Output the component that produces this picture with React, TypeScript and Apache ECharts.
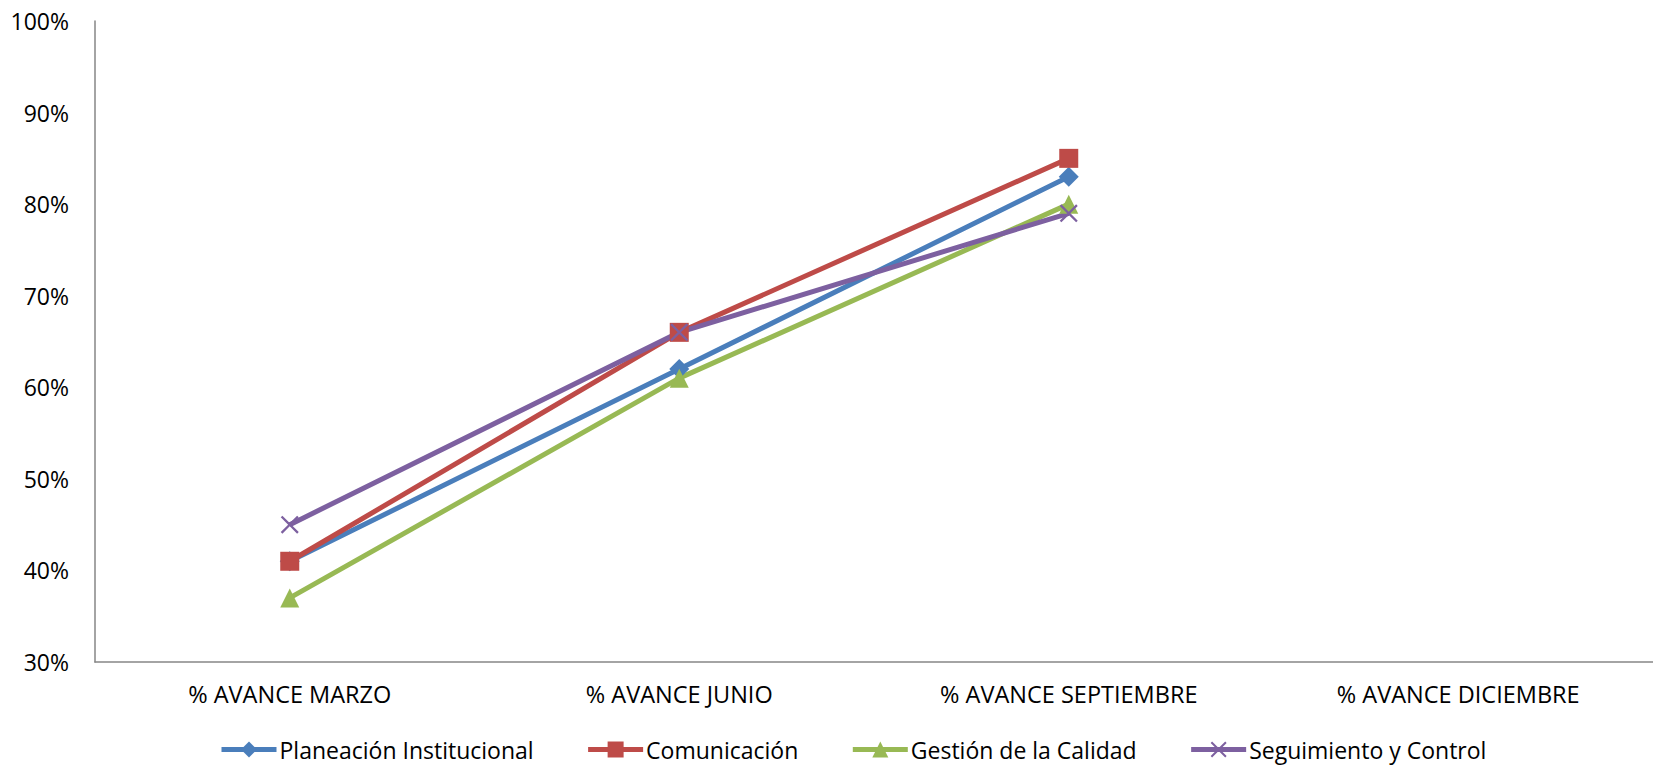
import React, { useEffect, useRef } from "react";
import * as echarts from "echarts";

const categories = ["% AVANCE MARZO", "% AVANCE JUNIO", "% AVANCE SEPTIEMBRE", "% AVANCE DICIEMBRE"];
const planeacion = [41, 62, 83, null];
const comunicacion = [41, 66, 85, null];
const gestion = [37, 61, 80, null];
const seguimiento = [45, 66, 79, null];
const seriesNames = ["Planeación Institucional", "Comunicación", "Gestión de la Calidad", "Seguimiento y Control"];

const FONT = "'Open Sans', sans-serif";
const XSYM = "path://M0,0.9L0.9,0L5,4.1L9.1,0L10,0.9L5.9,5L10,9.1L9.1,10L5,5.9L0.9,10L0,9.1L4.1,5Z";

export default function App() {
  const ref = useRef<HTMLDivElement>(null);
  useEffect(() => {
    if (!ref.current) return;
    const chart = echarts.init(ref.current, undefined, { renderer: "svg" });
    const mk = (name: string, data: any[], color: string, symbol: string, size: number) => ({
      name,
      type: "line",
      data,
      symbol,
      symbolSize: size,
      showSymbol: true,
      lineStyle: { color, width: 5 },
      itemStyle: { color },
      emphasis: { disabled: true },
    });
    chart.setOption({
      animation: false,
      textStyle: { fontFamily: FONT },
      grid: { left: 95, right: -9, top: 21, bottom: 104, containLabel: false },
      xAxis: {
        type: "category",
        data: categories,
        boundaryGap: true,
        axisLine: { lineStyle: { color: "#868686", width: 1.5 } },
        axisTick: { show: false },
        axisLabel: { color: "#000", fontSize: 23.5, fontFamily: FONT, margin: 20 },
      },
      yAxis: {
        type: "value",
        min: 30,
        max: 100,
        interval: 10,
        splitLine: { show: false },
        axisLine: { show: true, lineStyle: { color: "#868686", width: 1.5 } },
        axisTick: { show: false },
        axisLabel: { color: "#000", fontSize: 23, fontFamily: FONT, margin: 26, formatter: "{value}%" },
      },
      legend: {
        left: 214,
        top: 733,
        itemWidth: 55,
        itemHeight: 20,
        itemGap: 52,
        lineStyle: { width: 5 },
        textStyle: { color: "#000", fontSize: 23, fontFamily: FONT, padding: [0, 0, 0, -2] },
        data: seriesNames,
      },
      series: [
        mk(seriesNames[0], planeacion, "#4A7EBB", "diamond", 20),
        mk(seriesNames[1], comunicacion, "#BE4B48", "rect", 19),
        mk(seriesNames[2], gestion, "#98B954", "triangle", 19),
        mk(seriesNames[3], seguimiento, "#7D60A0", XSYM, 18),
      ],
    });
    return () => chart.dispose();
  }, []);
  return (
    <div
      ref={ref}
      style={{ position: "fixed", left: 0, top: 0, width: 1653, height: 766, background: "#fff" }}
    />
  );
}
